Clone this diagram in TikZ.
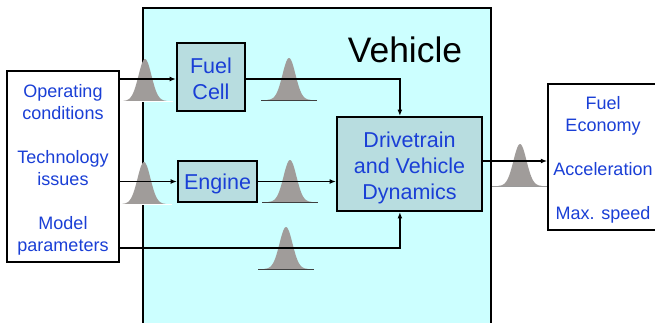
\documentclass[tikz,border=0pt]{standalone}
\usepackage{fontspec}
\setmainfont{Liberation Sans}
\usepackage{xcolor}
\usepackage{tikz}
\usetikzlibrary{arrows.meta,positioning,calc}
\definecolor{vehiclecyan}{HTML}{CCFFFF}
\definecolor{blockfill}{HTML}{B8DDE0}
\definecolor{textblue}{HTML}{1A3FD6}
\definecolor{bumpgray}{HTML}{A09C9A}
\definecolor{basedark}{HTML}{404040}
\definecolor{basegray}{HTML}{9A9A9A}

\begin{document}
\begin{tikzpicture}[
  x=0.025cm, y=-0.025cm,
  sidebox/.style={draw, line width=1pt, fill=white, inner sep=0pt},
  sidetext/.style={align=center, inner sep=0pt, text=textblue, font=\fontsize{12.8pt}{15.65pt}\selectfont},
  block/.style={draw, line width=1.3pt, fill=blockfill, inner sep=0pt},
  blocktext/.style={align=center, inner sep=0pt, text=textblue, font=\fontsize{15.3pt}{18.6pt}\selectfont},
  arrow/.style={-{Latex[length=0.16cm, width=0.12cm]}, line width=0.9pt}
]
\clip (0,0) rectangle (655,322);
\fill[white] (0,0) rectangle (655,322);
% vehicle frame
\draw[line width=1.2pt, fill=vehiclecyan] (143,8) rectangle (491,340);
\node[font=\fontsize{25.2pt}{30pt}\selectfont] (vehtitle) at (405,50) {Vehicle};
% uncertainty bumps
\foreach \cx/\by/\bl in {145/101/white, 289/100/basedark, 144/204/white, 290/202/basedark, 286/269/basedark, 520/186/basegray} {
  \fill[bumpgray] plot[domain=-22:22, samples=45, smooth] ({\cx+\x},{\by-42*exp(-\x*\x/84.5)}) -- cycle;
  \draw[\bl, line width=0.6pt] (\cx-28,\by) -- (\cx+28,\by);
}
% boxes
\node[sidebox, minimum width=2.8cm, minimum height=4.775cm] (inputs) at (63,166.5) {};
\node[sidetext] (inputstext) at ([yshift=-0.075cm]inputs.center)
  {Operating\\conditions\\[15.65pt]Technology\\issues\\[15.65pt]Model\\parameters};
\node[sidebox, minimum width=2.75cm, minimum height=3.65cm] (outputs) at (603,157) {};
\node[sidetext] (outputstext) at ([yshift=-0.075cm]outputs.center)
  {Fuel\\Economy\\[15.65pt]Acceleration\\[15.65pt]Max. speed};
\node[block, minimum width=1.7cm, minimum height=1.7cm] (fuelcell) at (211,77) {};
\node[blocktext] (fuelcelltext) at ([yshift=-0.04cm]fuelcell.center) {Fuel\\Cell};
\node[block, minimum width=1.975cm, minimum height=1.025cm] (engine) at (217.5,181.5) {};
\node[blocktext] (enginetext) at ([yshift=-0.05cm]engine.center) {Engine};
\node[block, minimum width=3.625cm, minimum height=2.35cm] (drive) at (409.5,164) {};
\node[blocktext] (drivetext) at ([yshift=-0.1cm]drive.center) {Drivetrain\\and Vehicle\\Dynamics};
% connectors
\draw[arrow] ([yshift=-0.05cm]fuelcell.west -| inputs.east) -- ([yshift=-0.05cm]fuelcell.west);
\draw[arrow] ([yshift=-0.05cm]fuelcell.east) -| ([xshift=-0.24cm]drive.north);
\draw[arrow] (engine.west -| inputs.east) -- (engine.west);
\draw[arrow] (engine.east) -- (engine.east -| drive.west);
\draw[arrow] ([yshift=-2.04cm]inputs.east) -| ([xshift=-0.24cm]drive.south);
\draw[arrow] ([yshift=0.075cm]drive.east) -- ([yshift=0.075cm]drive.east -| outputs.west);
\end{tikzpicture}
\end{document}
